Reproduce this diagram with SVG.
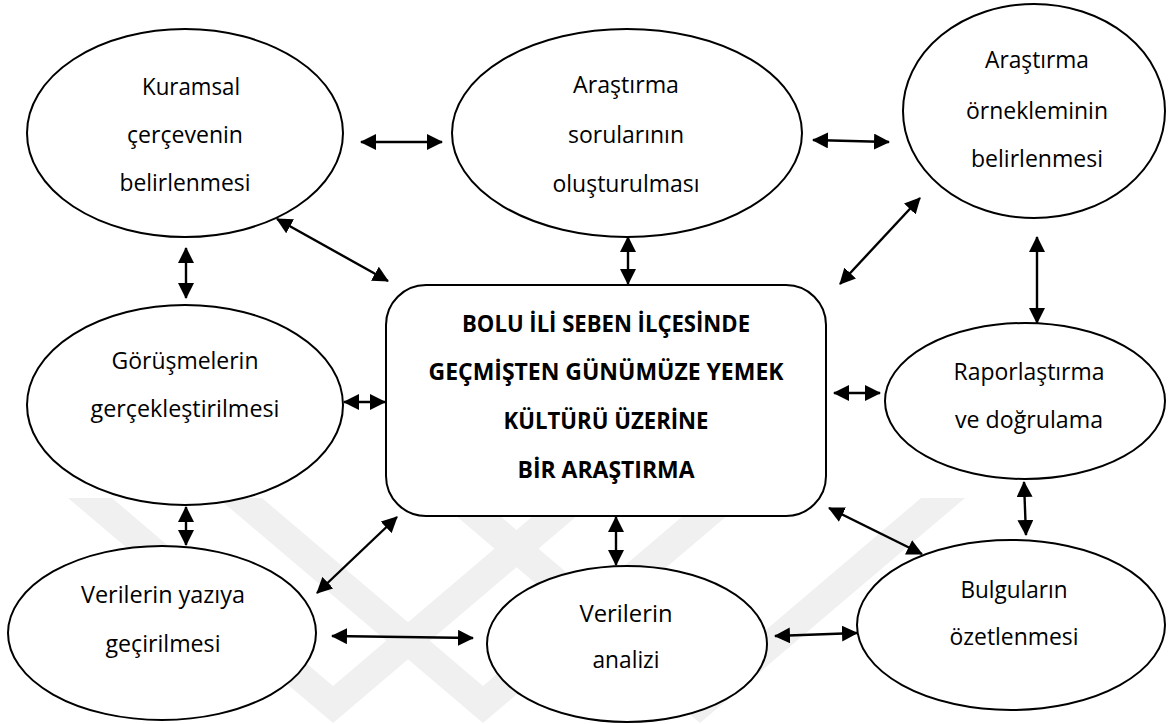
<svg xmlns="http://www.w3.org/2000/svg" width="1168" height="724" viewBox="0 0 1168 724">
  <style>
    .node { fill: #ffffff; stroke: #000000; stroke-width: 2; }
    .lbl { font-family: "Open Sans", Lato, "Liberation Sans", sans-serif; font-size: 24px; fill: #000000; text-anchor: middle; }
    .title { font-family: "Open Sans", Lato, "Liberation Sans", sans-serif; font-size: 24px; font-weight: bold; fill: #000000; text-anchor: middle; }
    .link { stroke: #000000; stroke-width: 2.4; fill: none; marker-start: url(#head); marker-end: url(#head); }
    .mark { fill: #f0f0f0; }
  </style>
  <defs>
    <marker id="head" viewBox="0 0 16 16" refX="15" refY="8" markerWidth="16" markerHeight="16" markerUnits="userSpaceOnUse" orient="auto-start-reverse">
      <path d="M0,0 L16,8 L0,16 z" fill="#000000"/>
    </marker>
  </defs>

  <rect width="1168" height="724" fill="#ffffff"/>

  <!-- faint background mark -->
  <g id="backdrop">
    <polygon class="mark" points="68,498 112,498 333,686 554,498 598,498 333,723"/>
    <polygon class="mark" points="218,498 262,498 483,686 704,498 748,498 483,723"/>
    <polygon class="mark" points="435,498 479,498 700,686 921,498 965,498 700,723"/>
  </g>

  <g id="connectors">
    <line class="link" x1="361" y1="142" x2="442" y2="142"/>
    <line class="link" x1="813" y1="140" x2="889" y2="142"/>
    <line class="link" x1="277" y1="219" x2="388" y2="281"/>
    <line class="link" x1="628" y1="237" x2="628" y2="284"/>
    <line class="link" x1="920" y1="198" x2="840" y2="284"/>
    <line class="link" x1="1037" y1="237" x2="1037" y2="323"/>
    <line class="link" x1="186" y1="248" x2="186" y2="298"/>
    <line class="link" x1="344" y1="402" x2="385" y2="402"/>
    <line class="link" x1="186" y1="507" x2="186" y2="545"/>
    <line class="link" x1="317" y1="593" x2="397" y2="517"/>
    <line class="link" x1="332" y1="636" x2="473" y2="638"/>
    <line class="link" x1="616" y1="517" x2="616" y2="565"/>
    <line class="link" x1="775" y1="636" x2="857" y2="633"/>
    <line class="link" x1="829" y1="508" x2="922" y2="554"/>
    <line class="link" x1="834" y1="393" x2="880" y2="393"/>
    <line class="link" x1="1024" y1="482" x2="1026" y2="535"/>
  </g>

  <g id="kuramsal">
    <ellipse class="node" cx="185" cy="133" rx="158" ry="104"/>
    <text class="lbl" x="191" y="95" textLength="98" lengthAdjust="spacingAndGlyphs">Kuramsal</text>
    <text class="lbl" x="185" y="143" textLength="116" lengthAdjust="spacingAndGlyphs">çerçevenin</text>
    <text class="lbl" x="185" y="191" textLength="131" lengthAdjust="spacingAndGlyphs">belirlenmesi</text>
  </g>

  <g id="sorular">
    <ellipse class="node" cx="627" cy="133" rx="175" ry="104"/>
    <text class="lbl" x="626" y="93" textLength="106" lengthAdjust="spacingAndGlyphs">Araştırma</text>
    <text class="lbl" x="626" y="143" textLength="116" lengthAdjust="spacingAndGlyphs">sorularının</text>
    <text class="lbl" x="626" y="192" textLength="147" lengthAdjust="spacingAndGlyphs">oluşturulması</text>
  </g>

  <g id="orneklem">
    <ellipse class="node" cx="1034" cy="111" rx="131" ry="107"/>
    <text class="lbl" x="1037" y="68" textLength="104" lengthAdjust="spacingAndGlyphs">Araştırma</text>
    <text class="lbl" x="1037" y="119" textLength="142" lengthAdjust="spacingAndGlyphs">örnekleminin</text>
    <text class="lbl" x="1037" y="167" textLength="132" lengthAdjust="spacingAndGlyphs">belirlenmesi</text>
  </g>

  <g id="merkez">
    <rect class="node" x="386" y="285" width="440" height="231" rx="40" ry="40"/>
    <text class="title" x="606" y="332" textLength="288" lengthAdjust="spacingAndGlyphs">BOLU İLİ SEBEN İLÇESİNDE</text>
    <text class="title" x="606" y="380" textLength="355" lengthAdjust="spacingAndGlyphs">GEÇMİŞTEN GÜNÜMÜZE YEMEK</text>
    <text class="title" x="606" y="429" textLength="205" lengthAdjust="spacingAndGlyphs">KÜLTÜRÜ ÜZERİNE</text>
    <text class="title" x="606" y="478" textLength="177" lengthAdjust="spacingAndGlyphs">BİR ARAŞTIRMA</text>
  </g>

  <g id="gorusmeler">
    <ellipse class="node" cx="185" cy="405" rx="158" ry="100"/>
    <text class="lbl" x="185" y="369" textLength="147" lengthAdjust="spacingAndGlyphs">Görüşmelerin</text>
    <text class="lbl" x="185" y="417" textLength="189" lengthAdjust="spacingAndGlyphs">gerçekleştirilmesi</text>
  </g>

  <g id="raporlastirma">
    <ellipse class="node" cx="1025" cy="401" rx="140" ry="78"/>
    <text class="lbl" x="1029" y="380" textLength="151" lengthAdjust="spacingAndGlyphs">Raporlaştırma</text>
    <text class="lbl" x="1029" y="428" textLength="148" lengthAdjust="spacingAndGlyphs">ve doğrulama</text>
  </g>

  <g id="yaziya">
    <ellipse class="node" cx="162" cy="633" rx="154" ry="87"/>
    <text class="lbl" x="163" y="603" textLength="164" lengthAdjust="spacingAndGlyphs">Verilerin yazıya</text>
    <text class="lbl" x="163" y="652" textLength="115" lengthAdjust="spacingAndGlyphs">geçirilmesi</text>
  </g>

  <g id="analiz">
    <ellipse class="node" cx="627" cy="644" rx="140" ry="78"/>
    <text class="lbl" x="626" y="622" textLength="93" lengthAdjust="spacingAndGlyphs">Verilerin</text>
    <text class="lbl" x="626" y="668" textLength="67" lengthAdjust="spacingAndGlyphs">analizi</text>
  </g>

  <g id="bulgular">
    <ellipse class="node" cx="1011" cy="625" rx="154" ry="85"/>
    <text class="lbl" x="1014" y="598" textLength="107" lengthAdjust="spacingAndGlyphs">Bulguların</text>
    <text class="lbl" x="1014" y="645" textLength="129" lengthAdjust="spacingAndGlyphs">özetlenmesi</text>
  </g>
</svg>
